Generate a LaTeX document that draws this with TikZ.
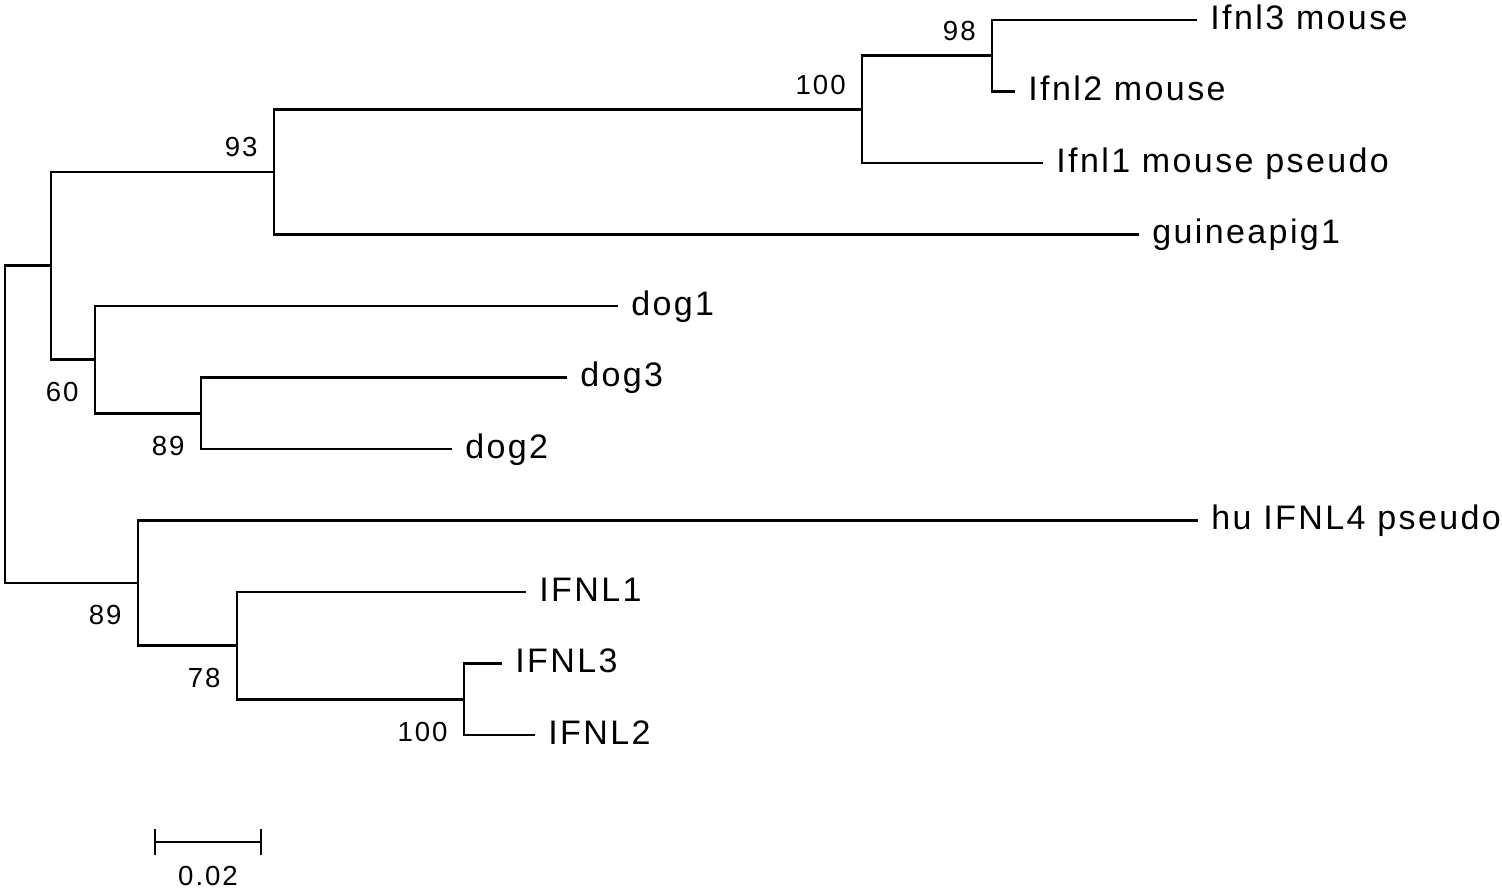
\documentclass[tikz,border=0pt]{standalone}
\usepackage{fontspec}
\setmainfont[LetterSpace=7]{Liberation Sans}
\tikzset{
  branch/.style={line width=1.4pt, line join=miter},
  taxon/.style={anchor=west, inner ysep=0pt, inner xsep=6.5pt,
    font=\fontsize{17}{19}\selectfont, text height=0.9em, text depth=0pt},
  boot/.style={inner sep=0pt, font=\fontsize{13.8}{16}\selectfont,
    text height=0.72em, text depth=0pt},
  bootup/.style={boot, anchor=south east, xshift=-8pt, yshift=7.5pt},
  bootdown/.style={boot, anchor=north east, xshift=-8pt, yshift=-13.5pt},
}
\begin{document}
\begin{tikzpicture}[x=0.5pt, y=-0.5pt]
    \useasboundingbox (0,0) rectangle (1502,890);
    % inner nodes of the tree
    \coordinate (r98)  at (992, 55.75);
    \coordinate (r100) at (862, 109.4);
    \coordinate (r93)  at (274, 171.9);
    \coordinate (d89)  at (201, 413.25);
    \coordinate (d60)  at (95, 359.6);
    \coordinate (rd)   at (51, 265.8);
    \coordinate (h100) at (464, 699.25);
    \coordinate (h78)  at (237, 645.6);
    \coordinate (h89)  at (138, 583);
    \coordinate (root) at (5, 424.4);
    % taxa
    \node[taxon] (m3) at (1197, 20)    {Ifnl3 mouse};
    \node[taxon] (m2) at (1015, 91.5)  {Ifnl2 mouse};
    \node[taxon] (m1) at (1043, 163)   {Ifnl1 mouse pseudo};
    \node[taxon] (gp) at (1139, 234.5) {guineapig1};
    \node[taxon] (d1) at (618, 306)    {dog1};
    \node[taxon] (d3) at (567, 377.5)  {dog3};
    \node[taxon] (d2) at (452, 449)    {dog2};
    \node[taxon] (h4) at (1198, 520.5) {hu IFNL4 pseudo};
    \node[taxon] (h1) at (526, 592)    {IFNL1};
    \node[taxon] (h3) at (502, 663.5)  {IFNL3};
    \node[taxon] (h2) at (535, 735)    {IFNL2};
    % branches
    \draw[branch] (r98) |- (m3.west) (r98) |- (m2.west);
    \draw[branch] (r100) |- (r98) (r100) |- (m1.west);
    \draw[branch] (r93) |- (r100) (r93) |- (gp.west);
    \draw[branch] (d89) |- (d3.west) (d89) |- (d2.west);
    \draw[branch] (d60) |- (d1.west) (d60) |- (d89);
    \draw[branch] (rd) |- (r93) (rd) |- (d60);
    \draw[branch] (h100) |- (h3.west) (h100) |- (h2.west);
    \draw[branch] (h78) |- (h1.west) (h78) |- (h100);
    \draw[branch] (h89) |- (h4.west) (h89) |- (h78);
    \draw[branch] (root) |- (rd) (root) |- (h89);
    % bootstrap values
    \node[bootup] (b98) at (r98) {98};
    \node[bootup] (b100m) at (r100) {100};
    \node[bootup] (b93) at (r93) {93};
    \node[bootdown] (b60) at (d60) {60};
    \node[bootdown] (b89d) at (d89) {89};
    \node[bootdown] (b89h) at (h89) {89};
    \node[bootdown] (b78) at (h78) {78};
    \node[bootdown] (b100h) at (h100) {100};
    % scale bar
    \coordinate (sbl) at (155, 842);
    \coordinate (sbr) at (261, 842);
    \draw[branch] (sbl) -- (sbr);
    \draw[branch] ([yshift=6.5pt]sbl) -- ([yshift=-6.5pt]sbl);
    \draw[branch] ([yshift=6.5pt]sbr) -- ([yshift=-6.5pt]sbr);
    \node[boot, anchor=north] (sbt) at (208, 871) {0.02};
\end{tikzpicture}
\end{document}
